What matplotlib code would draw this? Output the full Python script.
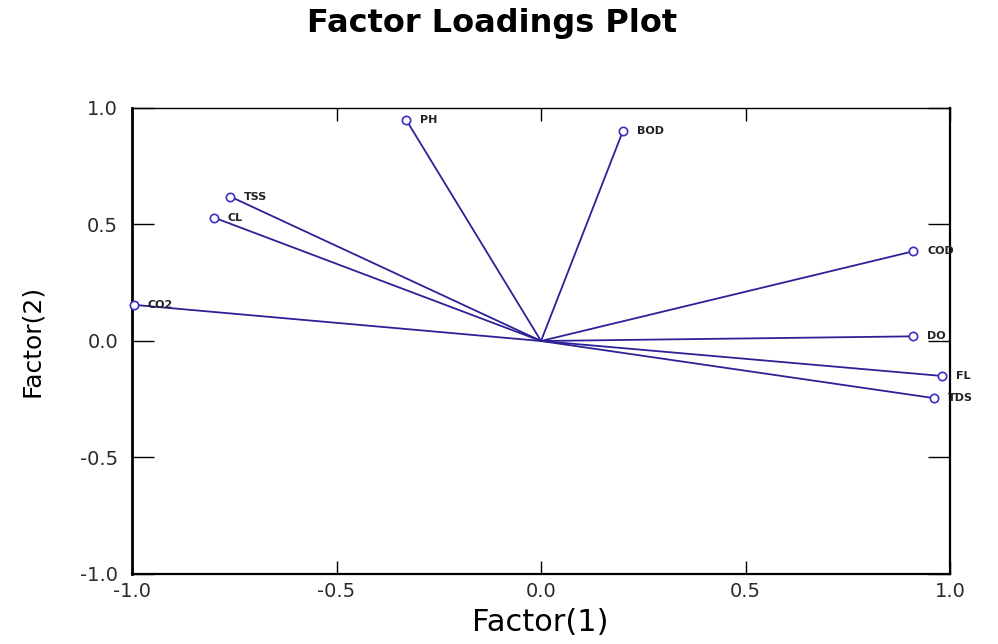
import numpy as np
import matplotlib
matplotlib.use("Agg")
import matplotlib.pyplot as plt

# factor loadings
variables = ["PH", "BOD", "TSS", "CL", "CO2", "COD", "DO", "FL", "TDS"]
factor1 = [-0.33, 0.20, -0.76, -0.80, -0.995, 0.91, 0.91, 0.98, 0.96]
factor2 = [0.95, 0.90, 0.62, 0.53, 0.155, 0.385, 0.02, -0.15, -0.245]

ticks = [-1.0, -0.5, 0.0, 0.5, 1.0]
tick_labels = ["-1.0", "-0.5", "0.0", "0.5", "1.0"]

line_col = "#2c2196"
mark_col = "#3a30c0"

fig = plt.figure(figsize=(9.98, 6.44), dpi=100)
ax = fig.add_axes([0.1323, 0.1087, 0.8196, 0.7236])

for name, x, y in zip(variables, factor1, factor2):
    ax.plot([0, x], [0, y], color=line_col, lw=1.3, zorder=2)
    ax.plot(x, y, marker="o", ms=6, mfc="white", mec=mark_col, mew=1.2,
            linestyle="none", zorder=3, clip_on=False)
    ax.annotate(name, (x, y), xytext=(10, 0), textcoords="offset points",
                fontsize=8, fontweight="bold", color="#222222",
                ha="left", va="center", family="DejaVu Sans")

ax.set_xlim(-1, 1)
ax.set_ylim(-1, 1)
ax.set_xticks(ticks)
ax.set_yticks(ticks)
ax.set_xticklabels(tick_labels)
ax.set_yticklabels(tick_labels)

# left/bottom frame heavier than top/right, like the original
ax.spines["left"].set_linewidth(2.0)
ax.spines["bottom"].set_linewidth(1.6)
ax.spines["right"].set_linewidth(1.6)
ax.spines["top"].set_linewidth(1.0)

ax.tick_params(axis="x", direction="in", length=9.5, width=1.0, top=True,
               labelsize=14, labelcolor="#2a2a2a", pad=6)
ax.tick_params(axis="y", direction="in", length=16, width=1.0, right=True,
               labelsize=14, labelcolor="#2a2a2a", pad=10)

fig.text(0.493, 0.964, "Factor Loadings Plot", ha="center", va="center",
         fontsize=23, fontweight="bold", family="DejaVu Sans")
fig.text(0.541, 0.034, "Factor(1)", ha="center", va="center",
         fontsize=22, family="DejaVu Sans")
fig.text(0.032, 0.47, "Factor(2)", ha="center", va="center",
         rotation=90, fontsize=18, family="DejaVu Sans")

fig.savefig("out.png", dpi=100)
